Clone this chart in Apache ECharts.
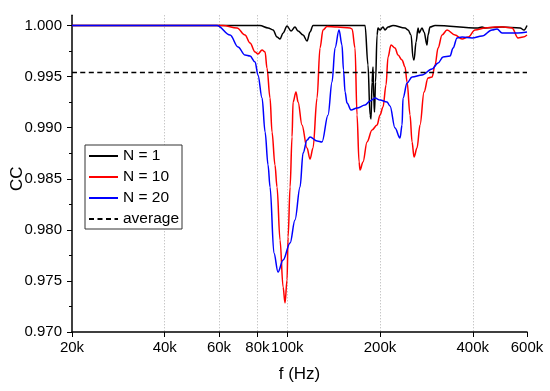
<!DOCTYPE html>
<html><head><meta charset="utf-8">
<script src="https://cdn.jsdelivr.net/npm/echarts@6/dist/echarts.min.js"></script>
<style>html,body{margin:0;padding:0;background:#fff}#c{width:550px;height:391px}</style>
</head><body><div id="c"></div>
<script>
// frequencies in kHz
const xTicks = [20, 40, 60, 80, 100, 200, 400, 600];
const yTicks = [0.970, 0.975, 0.980, 0.985, 0.990, 0.995, 1.000];
const yMinorTicks = [0.9725, 0.9775, 0.9825, 0.9875, 0.9925, 0.9975];
const seriesNames = ['N = 1', 'N = 10', 'N = 20', 'average'];

const freqN1 = [20,81.5,86.6,89.9,92.6,94.7,96.9,99.8,102.8,105.9,108.4,112.5,115.9,118.5,121.2,178.8,182.8,185.6,187.0,188.4,189.8,190.8,191.9,193.4,195.6,197.0,200,204.5,207.6,212.3,220.4,241.1,246.6,252.2,256.0,257.9,261.8,265.8,267.8,273.8,277.9,284.2,286.3,290.6,301.8,416.2,428.8,438.6,498.0,569.7,587.0,600];
const ccN1 = [1.0,1.0,0.99976,0.99956,0.99887,0.99868,0.99927,0.99995,0.99946,0.99985,0.99946,0.99907,0.99848,0.99936,1.0,1.0,0.99613,0.99124,0.99085,0.99447,0.99594,0.99290,0.99153,0.99447,0.99907,0.99976,0.99956,0.99985,0.99956,0.99985,1.0,0.99976,0.99956,0.99907,0.99682,0.99662,0.99838,0.99976,0.99927,0.99976,0.99936,0.99809,0.99907,0.99985,1.0,0.99976,0.99985,0.99976,0.99985,0.99976,0.99956,1.0];

const freqN10 = [20,61.8,68.7,72.9,75.7,78.6,80.3,82.8,84.7,85.9,87.9,89.2,91.2,92.6,94.7,96.9,98.3,99.8,100.6,102.1,103.6,104.4,106.7,108.4,111.6,115.9,118.5,121.2,124.9,127.7,130.6,134.6,145.0,159.8,162.3,165.9,168.4,171.0,172.2,176.1,181.5,188.4,195.6,200,204.5,209.2,212.3,217.1,223.7,228.8,235.8,241.1,244.8,250.3,254.1,257.9,263.7,269.7,277.9,286.3,295.0,301.8,308.6,318.0,330.0,350.4,369.3,386.2,407.0,438.6,472.6,501.6,536.6,561.2,582.6,600];
const ccN10 = [1.0,1.0,0.99976,0.99907,0.99829,0.99741,0.99721,0.99760,0.99741,0.99584,0.99290,0.98958,0.98635,0.98419,0.97900,0.97440,0.97284,0.97509,0.97930,0.98419,0.98909,0.99251,0.99349,0.99251,0.99026,0.98801,0.98693,0.98801,0.99290,0.99780,0.99956,0.99990,0.99985,0.99976,0.99966,0.99780,0.99124,0.98664,0.98586,0.98664,0.98860,0.98977,0.99026,0.99124,0.99202,0.99418,0.99692,0.99809,0.99780,0.99711,0.99662,0.99594,0.99447,0.99124,0.98860,0.98713,0.98801,0.99026,0.99349,0.99486,0.99496,0.99613,0.99780,0.99907,0.99956,0.99907,0.99868,0.99887,0.99956,0.99976,0.99985,0.99985,0.99976,0.99878,0.99887,0.99907];

const freqN20 = [20,59.1,65.2,69.2,72.9,75.7,78.6,80.3,82.8,84.7,86.6,87.9,90.5,93.3,96.9,102.1,105.9,110.0,112.5,115.9,118.5,124.9,129.6,135.6,139.7,142.9,147.2,150.5,152.2,154.0,156.3,161.0,168.4,178.8,185.6,192.7,200,210.7,215.5,223.7,232.2,235.8,237.5,244.8,254.1,273.8,295.0,308.6,320.4,337.6,345.2,355.7,369.3,398.0,428.8,462.0,479.8,498.0,528.6,561.2,600];
const ccN20 = [1.0,1.0,0.99907,0.99790,0.99711,0.99701,0.99643,0.99516,0.99290,0.98958,0.98635,0.98419,0.97773,0.97587,0.97705,0.97871,0.98096,0.98419,0.98752,0.98879,0.98909,0.98870,0.98860,0.99124,0.99447,0.99780,0.99956,0.99809,0.99564,0.99349,0.99241,0.99173,0.99192,0.99222,0.99261,0.99290,0.99271,0.99251,0.99212,0.98997,0.98899,0.99026,0.99290,0.99437,0.99496,0.99516,0.99574,0.99633,0.99692,0.99701,0.99780,0.99878,0.99887,0.99878,0.99897,0.99956,0.99966,0.99927,0.99927,0.99927,0.99936];

const averageCC = 0.9954;
const averageFreq = [20, 600];

const zip = (f, v) => f.map((x, i) => [x, v[i]]);
const font = '"Liberation Sans", Arial, sans-serif';
const chart = echarts.init(document.getElementById('c'), null, {renderer: 'canvas'});

const lineSeries = (name, f, v, color, type) => ({
  name, type: 'line', data: zip(f, v), symbol: 'none', showSymbol: false,
  smooth: 0.35, smoothMonotone: 'x', clip: true,
  lineStyle: {color, width: 1.5, type: type || 'solid'},
  itemStyle: {color},
  emphasis: {disabled: true}
});

chart.setOption({
  animation: false,
  backgroundColor: '#ffffff',
  grid: {left: 72, right: 23, top: 15.3, bottom: 59, containLabel: false, outerBoundsMode: 'none'},
  legend: {
    orient: 'vertical', left: 85, top: 145,
    padding: [3, 3, 2, 3], itemGap: 5, itemWidth: 29, itemHeight: 14,
    borderColor: '#333', borderWidth: 1, backgroundColor: '#fff',
    itemStyle: {opacity: 0},
    textStyle: {fontFamily: font, fontSize: 15.5, color: '#000'},
    data: seriesNames
  },
  xAxis: {
    type: 'log', logBase: 10, min: 20, max: 600,
    name: 'f (Hz)', nameLocation: 'middle', nameGap: 34, nameMoveOverlap: false,
    nameTextStyle: {fontFamily: font, fontSize: 17, color: '#000'},
    axisLine: {show: true, lineStyle: {color: '#000', width: 1.5}},
    axisTick: {show: true, customValues: xTicks, length: 5, inside: false, lineStyle: {color: '#000', width: 1}},
    axisLabel: {customValues: xTicks, formatter: v => Math.round(v) + 'k', margin: 8,
      fontFamily: font, fontSize: 15, color: '#000'},
    splitLine: {show: true, showMinLine: false, showMaxLine: false,
      lineStyle: {type: [1, 2], color: '#b0b0b0', width: 1}},
    minorTick: {show: false}, minorSplitLine: {show: false}
  },
  yAxis: [{
    type: 'value', min: 0.970, max: 1.001, position: 'left',
    name: 'CC', nameLocation: 'middle', nameGap: 46, nameMoveOverlap: false,
    nameTextStyle: {fontFamily: font, fontSize: 17, color: '#000', padding: [0, 10, 0, 0]},
    axisLine: {show: true, lineStyle: {color: '#000', width: 1.5}},
    axisTick: {show: true, customValues: yTicks, length: 5, inside: false, lineStyle: {color: '#000', width: 1}},
    axisLabel: {customValues: yTicks, formatter: v => v.toFixed(3), margin: 10,
      fontFamily: font, fontSize: 15, color: '#000'},
    splitLine: {show: false}
  }, {
    type: 'value', min: 0.970, max: 1.001, position: 'left', offset: 0,
    axisLine: {show: false},
    axisTick: {show: true, customValues: yMinorTicks, length: 3, inside: false, lineStyle: {color: '#000', width: 1}},
    axisLabel: {show: false},
    splitLine: {show: false}
  }],
  series: [
    lineSeries(seriesNames[0], freqN1, ccN1, '#000000'),
    lineSeries(seriesNames[1], freqN10, ccN10, '#ff0000'),
    lineSeries(seriesNames[2], freqN20, ccN20, '#0000ff'),
    lineSeries(seriesNames[3], averageFreq, averageFreq.map(() => averageCC), '#000000', [5, 3.5])
  ]
});
</script></body></html>
